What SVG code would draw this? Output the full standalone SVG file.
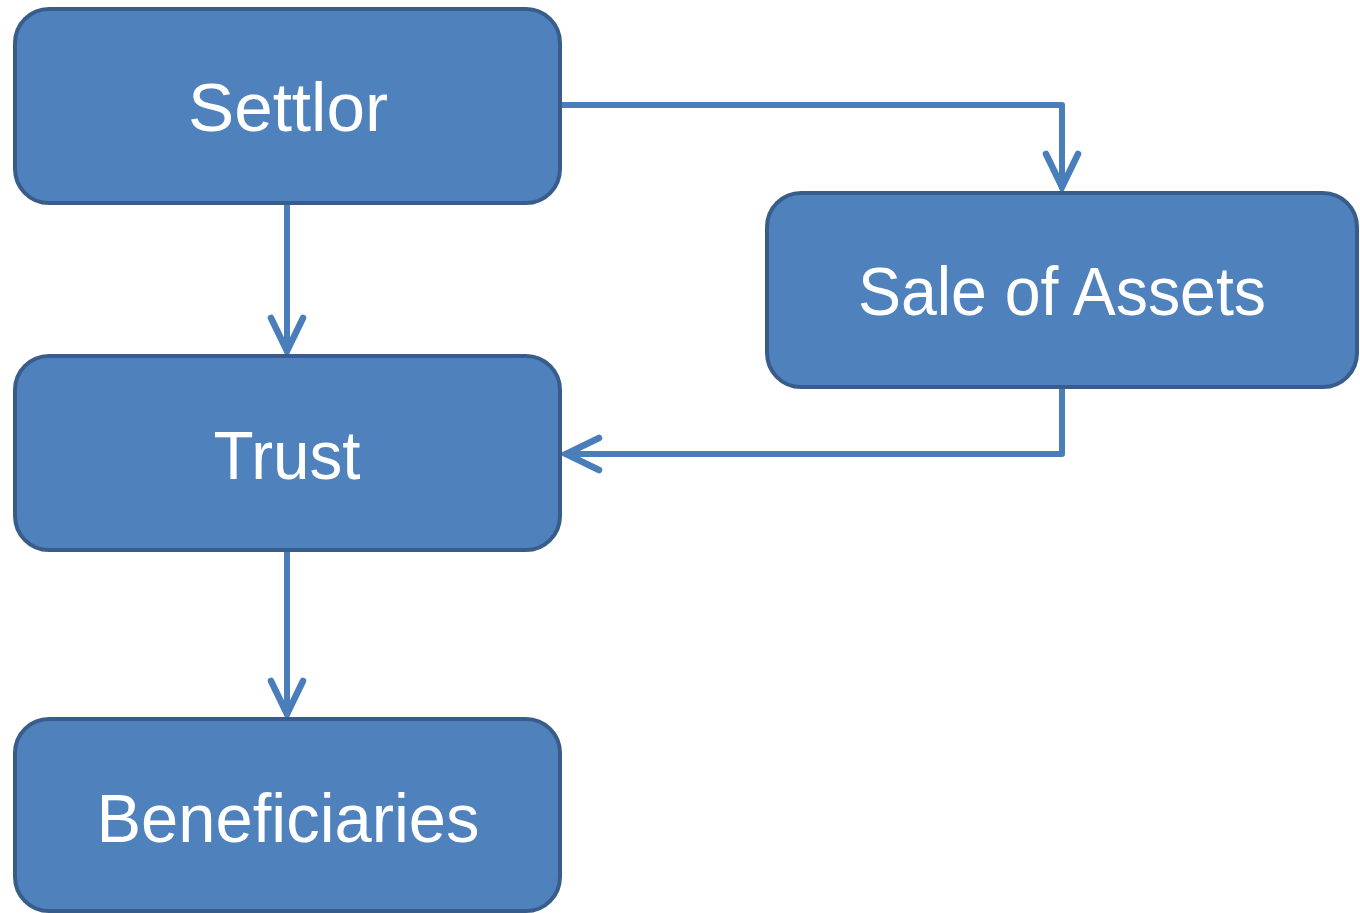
<svg xmlns="http://www.w3.org/2000/svg" width="1360" height="913" viewBox="0 0 1360 913">
<style>
.box{fill:#4F81BD;stroke:#385D8A;stroke-width:4}
.lbl{font-family:"Liberation Sans",Arial,sans-serif;font-size:68px;fill:#FFFFFF;text-anchor:middle}
.conn{fill:none;stroke:#4A7EBB;stroke-width:6;stroke-linejoin:round}
</style>
<defs>
<marker id="arr" markerUnits="userSpaceOnUse" viewBox="-40 -22 46 44" markerWidth="46" markerHeight="44" refX="2" refY="0" orient="auto" overflow="visible">
<path d="M-33,-16 L0,0 L-33,16" fill="none" stroke="#4A7EBB" stroke-width="6.5" stroke-linecap="round" stroke-linejoin="miter"/>
</marker>
</defs>
<rect width="1360" height="913" fill="#FFFFFF"/>
<g id="connectors">
<path class="conn" d="M562,105 L1062,105 L1062,189" marker-end="url(#arr)"/>
<path class="conn" d="M287,203 L287,353" marker-end="url(#arr)"/>
<path class="conn" d="M1062,387 L1062,454 L564,454" marker-end="url(#arr)"/>
<path class="conn" d="M287,550 L287,716" marker-end="url(#arr)"/>
</g>
<g id="settlor">
<rect class="box" x="15" y="9" width="545" height="194" rx="34"/>
<text class="lbl" x="288" y="131" textLength="200" lengthAdjust="spacingAndGlyphs">Settlor</text>
</g>
<g id="sale-of-assets">
<rect class="box" x="767" y="193" width="590" height="194" rx="34"/>
<text class="lbl" x="1062" y="315" textLength="408" lengthAdjust="spacingAndGlyphs">Sale of Assets</text>
</g>
<g id="trust">
<rect class="box" x="15" y="356" width="545" height="194" rx="34"/>
<text class="lbl" x="287" y="479" textLength="147" lengthAdjust="spacingAndGlyphs">Trust</text>
</g>
<g id="beneficiaries">
<rect class="box" x="15" y="719" width="545" height="192" rx="34"/>
<text class="lbl" x="288" y="842" textLength="383" lengthAdjust="spacingAndGlyphs">Beneficiaries</text>
</g>
</svg>
